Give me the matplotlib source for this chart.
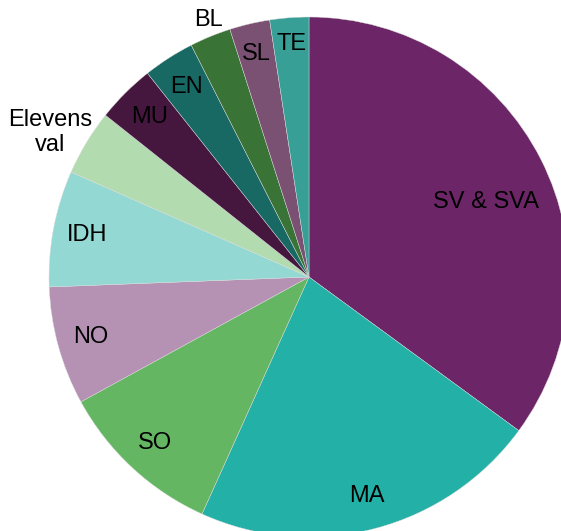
import numpy as np
import matplotlib
matplotlib.use("Agg")
import matplotlib.pyplot as plt

# Share of each subject, read clockwise from 12 o'clock
subjects = ["SV & SVA", "MA", "SO", "NO", "IDH", "Elevens\nval",
            "MU", "EN", "BL", "SL", "TE"]
shares = [35.06, 21.69, 10.28, 7.36, 7.22, 4.08, 3.64, 3.19, 2.56, 2.50, 2.42]
colors = ["#6C2567", "#23B0A6", "#65B663", "#B592B3", "#93D8D3", "#B2DBB0",
          "#45173F", "#186864", "#3A7336", "#7A5172", "#389F96"]
# label distance from centre (radius units) and angular nudge in degrees
label_dist = [0.74, 0.87, 0.87, 0.87, 0.87, 1.14, 0.87, 0.87, 1.06, 0.88, 0.9]
label_nudge = [-4, 0, 0, 0, 0, 2, 0, 0, -1, 0, 0]

plt.rcParams["font.family"] = ["Liberation Sans", "DejaVu Sans"]

fig = plt.figure(figsize=(5.61, 5.31), dpi=100)
# pie is slightly larger than the canvas on the right and bottom
ax = fig.add_axes([49 / 561, -6 / 531, 520 / 561, 520 / 531])
ax.axis("off")

wedges, _ = ax.pie(shares, colors=colors, startangle=90, counterclock=False,
                   radius=1, wedgeprops={"edgecolor": "#dcdcdc", "linewidth": 0.3},
                   normalize=True, frame=False)
ax.set_xlim(-1, 1)
ax.set_ylim(-1, 1)
ax.set_aspect("equal")

for w, lab, d, nudge in zip(wedges, subjects, label_dist, label_nudge):
    mid = np.deg2rad((w.theta1 + w.theta2) / 2 + nudge)
    ax.text(d * np.cos(mid), d * np.sin(mid), lab, ha="center", va="center",
            fontsize=17, color="black", linespacing=1.15, clip_on=False)

fig.savefig("out.png", dpi=100)
